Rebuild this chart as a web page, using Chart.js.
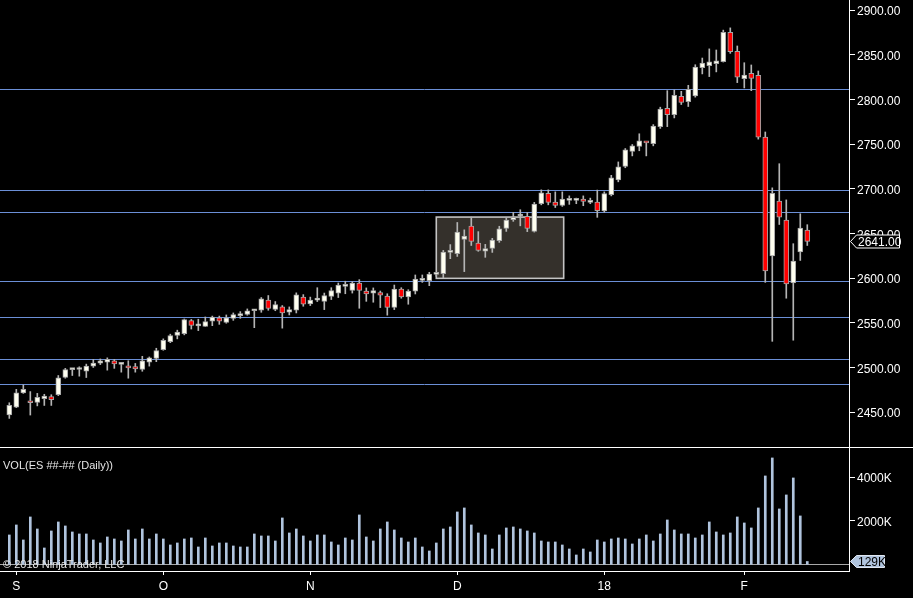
<!DOCTYPE html>
<html>
<head>
<meta charset="utf-8">
<script src="https://cdn.jsdelivr.net/npm/chart.js@4.4.1/dist/chart.umd.min.js"></script>
<style>
html,body{margin:0;padding:0;background:#000;width:913px;height:598px;overflow:hidden;}
#wrap{position:relative;width:913px;height:598px;background:#000;}
#pc{position:absolute;left:0;top:0;}
#vc{position:absolute;left:0;top:448px;}
#sep{position:absolute;left:0;top:447px;width:913px;height:1px;background:#ffffff;}
.txt{position:absolute;font-family:"Liberation Sans",Arial,sans-serif;font-size:11px;line-height:13px;color:#e6e6e6;white-space:nowrap;}
</style>
</head>
<body>
<div id="wrap">
  <canvas id="pc" width="913" height="447"></canvas>
  <div id="sep"></div>
  <canvas id="vc" width="913" height="150"></canvas>
  <div class="txt" style="left:3px;top:459px;">VOL(ES ##-## (Daily))</div>
  <div class="txt" style="left:3px;top:558px;">© 2018 NinjaTrader, LLC</div>
</div>
<script>
// ---- data (daily bars, ES futures) ----
const opens = [2447,2455.5,2471.5,2462.5,2461,2465,2467.5,2469.5,2488.75,2497.5,
2497.75,2495.75,2501.5,2504.75,2506,2507.5,2503.5,2501.75,2501,2497.75,
2506,2510,2520,2529,2535.75,2537.75,2552.5,2546.5,2546,2551.75,
2555.5,2550.5,2555,2558,2559.25,2563.5,2564,2575.5,2565,2567.75,
2561.75,2564,2578.75,2571,2575.25,2574,2579.5,2583.25,2590.75,2586.25,
2594.5,2585.5,2583.25,2583.75,2580,2567.25,2587.75,2579,2585.5,2597.5,
2597,2604.25,2605,2628.75,2627.25,2643.25,2658.25,2639.25,2630,2633.25,
2641.75,2655.5,2665.25,2669.5,2669,2652.25,2683.25,2695,2685,2681.25,
2687,2687,2688.5,2684.75,2685,2675.25,2693.5,2710,2725,2741.75,
2747.25,2751.5,2750.5,2769.5,2790,2783,2803.5,2797.5,2804,2835.5,
2837.75,2840,2842.25,2875,2853.75,2823.25,2829.25,2827,2757.75,2624.75,
2686.25,2665,2594.5,2629.25,2653.75];
const highs = [2460.5,2475.5,2480.5,2473,2471,2470,2469.5,2491,2499,2498,
2500.75,2503.75,2509,2509.5,2510.75,2509,2504.25,2507.5,2504.5,2512.5,
2511.75,2521.5,2532,2537.25,2541.75,2554.25,2553.75,2554,2556.5,2557.5,
2557.5,2558.75,2561,2562.5,2565.5,2564.75,2578.25,2580.5,2573.75,2569.25,
2567.75,2583.5,2581.5,2578.75,2589.25,2583.25,2589.25,2594.5,2596.5,2596,
2598.25,2589,2589,2585.5,2582.5,2592.25,2589.25,2587,2603.5,2603.5,
2606.5,2605.75,2631,2637.5,2662.25,2654,2668.25,2652,2637.75,2644.5,
2658,2667.5,2673.5,2676.5,2673.5,2684.75,2698.75,2698.75,2696.5,2696.5,
2692,2689.5,2692,2689.5,2698.5,2696.5,2715,2730,2745,2749.5,
2761.5,2752.5,2771.75,2791.25,2809.75,2810.5,2809,2815.75,2838.75,2846.25,
2856.5,2855.25,2877.5,2880,2859.75,2841,2838.5,2831.75,2763.5,2701,
2728,2687.5,2638.5,2672,2659.75];
const lows = [2443,2455,2471,2446.75,2457,2457.5,2457.5,2468.5,2488,2491,
2490.25,2488.75,2500,2503.25,2497,2499,2494.75,2488,2494.75,2495.75,
2501.5,2506.5,2519.25,2527.75,2532,2536.5,2543,2541.25,2546,2546.75,
2548.25,2549.5,2552.75,2555,2558.5,2544.5,2561.75,2564,2563.5,2544,
2558.75,2561,2568.5,2569.25,2573.75,2564.75,2576,2578.25,2582.5,2583.25,
2566.25,2574,2573,2567,2558.5,2564.75,2577.5,2570.75,2582.25,2595.25,
2591.5,2602,2600.5,2621.75,2624.25,2607.25,2636.5,2630,2623.25,2628.75,
2640,2652.25,2663.5,2658.5,2652,2651.5,2682,2682,2679,2680.25,
2682.5,2683.25,2681,2683.25,2668,2673.75,2692,2707.75,2723.5,2736.75,
2742.5,2736.75,2748,2767.5,2769.5,2779.25,2794.25,2792,2802.5,2828.5,
2825.5,2830.75,2841.75,2851.5,2818.75,2812.75,2809.75,2755.5,2595.25,2529.25,
2660,2577.5,2530.5,2619.75,2636.5];
const closes = [2457.5,2471.5,2475.5,2460.5,2466.5,2468,2464,2488.5,2497.75,2497.75,
2497.75,2501.5,2505,2507.5,2509,2504,2503.75,2499.5,2498.5,2507.5,
2510.75,2519,2530.5,2535.75,2539.5,2553.5,2547,2546.5,2551.25,2556.5,
2551.75,2555.5,2559.25,2560.25,2563.5,2563.75,2576.75,2566,2570.25,2561,
2564.75,2581.25,2570.75,2575.5,2577.75,2580.5,2586,2592.25,2590.75,2594.5,
2586.25,2582.25,2586,2581,2567.25,2587.75,2579,2585.5,2599,2599.75,
2604.5,2604.25,2629.25,2629.5,2651.5,2647,2641,2631,2633,2642.5,
2655,2665,2668,2669.5,2655.5,2682.75,2695.5,2684.75,2681.25,2688.5,
2687,2687,2685.75,2686.75,2675.5,2694.5,2712.25,2724.5,2743.5,2748,
2753.5,2751.25,2770.25,2789.25,2783,2804.5,2796.5,2811.25,2836,2840.5,
2842,2843,2875,2853.5,2824.75,2827.25,2823.5,2757.75,2608,2695,
2668.25,2593.5,2619,2656,2641];
const volumesK = [1349,1809,1119,2177,1625,751,1533,1947,1763,1487,
1395,1395,1119,981,1257,1165,1073,1579,1165,1625,
1165,1395,1165,889,981,1165,1211,797,1211,843,
981,981,843,797,797,1395,1303,1303,1073,2131,
1441,1625,1303,1073,1349,1349,1027,889,1211,1119,
2269,1257,1073,1625,1947,1579,1211,1027,1211,797,
613,981,1625,1717,2407,2591,1809,1441,1349,705,
1349,1671,1717,1625,1533,1441,1073,1027,1027,889,
705,429,705,567,1119,1027,1165,1211,1165,935,
1165,1349,1073,1395,2039,1579,1395,1395,1211,1349,
1947,1487,1349,1441,2177,1901,1671,2591,4062,4890,
2545,3189,3970,2223,129];
const tickLabels = ["S","O","N","D","18","F"];
const tickBars = [1,22,43,64,85,105];
const priceTicks = [2450,2500,2550,2600,2650,2700,2750,2800,2850,2900];
const volumeTicks = [2000,4000];
const levels = [2811.5,2698.5,2674,2597,2557,2510,2481];
const zoneBars = [61,79.2];
const zonePrices = [2599.7,2668.3];

// ---- view settings ----
const xMin = -1.33, xMax = 119.96;
const FONT = {family:'"Liberation Sans", Arial, sans-serif', size:12};
const bars = opens.map((_, i) => i);

const bodyData = bars.map(i => ({x:i, y:[opens[i], closes[i]]}));
const wickData = bars.map(i => ({x:i, y:[lows[i], highs[i]]}));
const bodyColors = bars.map(i => closes[i] < opens[i] ? '#ff0000' : '#fffff0');
const volData = bars.map(i => ({x:i, y:volumesK[i]}));

function rightAxis(extra){
  return Object.assign({
    position:'right',
    afterFit(s){ s.width = 64; s.paddingTop = 0; s.paddingBottom = 0; },
    grid:{drawOnChartArea:false, drawTicks:true, tickLength:6, color:'#ffffff'},
    border:{display:true, color:'#ffffff', width:1}
  }, extra);
}

const pricePlugin = {
  id:'pricePlugin',
  beforeDatasetsDraw(chart){
    const {ctx, chartArea:a, scales:{x, y}} = chart;
    ctx.save();
    const zx0 = x.getPixelForValue(zoneBars[0]), zx1 = x.getPixelForValue(zoneBars[1]);
    const zy0 = y.getPixelForValue(zonePrices[1]), zy1 = y.getPixelForValue(zonePrices[0]);
    ctx.fillStyle = '#34302b';
    ctx.fillRect(zx0, zy0, zx1 - zx0, zy1 - zy0);
    ctx.strokeStyle = '#c4c4c4';
    ctx.lineWidth = 1.6;
    ctx.strokeRect(zx0, zy0, zx1 - zx0, zy1 - zy0);
    ctx.strokeStyle = '#6b8fd6';
    ctx.lineWidth = 1;
    levels.forEach(v => {
      const py = Math.round(y.getPixelForValue(v)) + 0.5;
      ctx.beginPath(); ctx.moveTo(a.left, py); ctx.lineTo(a.right, py); ctx.stroke();
    });
    ctx.restore();
  },
  afterDraw(chart){
    const {ctx, chartArea:a, scales:{y}} = chart;
    const last = closes[closes.length - 1];
    const py = Math.round(y.getPixelForValue(last)) + 0.5;
    const x0 = a.right + 1.5, xb = x0 + 6, x1 = 899.5;
    ctx.save();
    ctx.beginPath();
    ctx.moveTo(x0, py); ctx.lineTo(xb, py - 6.5); ctx.lineTo(x1, py - 6.5);
    ctx.lineTo(x1, py + 6.5); ctx.lineTo(xb, py + 6.5); ctx.closePath();
    ctx.fillStyle = '#000'; ctx.fill();
    ctx.strokeStyle = '#ffffff'; ctx.lineWidth = 1; ctx.stroke();
    ctx.fillStyle = '#ffffff';
    ctx.font = '12px "Liberation Sans", Arial, sans-serif';
    ctx.textBaseline = 'middle'; ctx.textAlign = 'left';
    ctx.fillText(last.toFixed(2), xb + 1.5, py + 1);
    ctx.restore();
  }
};

new Chart(document.getElementById('pc'), {
  type:'bar',
  data:{datasets:[
    {data:bodyData, backgroundColor:bodyColors, borderColor:'#a4a4a4', borderWidth:1,
     borderSkipped:false, barThickness:5, minBarLength:2, grouped:false, order:1},
    {data:wickData, backgroundColor:'#b4b4b4', borderWidth:0, barThickness:1, grouped:false, order:2}
  ]},
  options:{
    responsive:false, animation:false, events:[],
    layout:{padding:0},
    plugins:{legend:{display:false}, tooltip:{enabled:false}},
    scales:{
      x:{type:'linear', min:xMin, max:xMax, display:false, offset:false, grid:{offset:false}},
      y:rightAxis({
        min:2411, max:2911.2,
        afterBuildTicks(s){ s.ticks = priceTicks.map(v => ({value:v})); },
        ticks:{color:'#ffffff', font:FONT, padding:2, labelOffset:2, callback:v => Number(v).toFixed(2)}
      })
    }
  },
  plugins:[pricePlugin]
});

const volPlugin = {
  id:'volPlugin',
  beforeDatasetsDraw(chart){
    const {ctx, chartArea:a, scales:{y}} = chart;
    const py = Math.round(y.getPixelForValue(0)) + 0.5;
    ctx.save();
    ctx.strokeStyle = '#a8a8a8'; ctx.lineWidth = 1;
    ctx.beginPath(); ctx.moveTo(a.left, py); ctx.lineTo(a.right, py); ctx.stroke();
    ctx.restore();
  },
  afterDraw(chart){
    const {ctx, chartArea:a, scales:{y}} = chart;
    const last = volumesK[volumesK.length - 1];
    const py = Math.round(y.getPixelForValue(last)) + 0.5;
    const x0 = a.right + 1.5, xb = x0 + 6, x1 = 884.5;
    ctx.save();
    ctx.beginPath();
    ctx.moveTo(x0, py); ctx.lineTo(xb, py - 6); ctx.lineTo(x1, py - 6);
    ctx.lineTo(x1, py + 6); ctx.lineTo(xb, py + 6); ctx.closePath();
    ctx.fillStyle = '#b0c4de'; ctx.fill();
    ctx.strokeStyle = '#dfe6f0'; ctx.lineWidth = 1; ctx.stroke();
    ctx.fillStyle = '#000000';
    ctx.font = '12px "Liberation Sans", Arial, sans-serif';
    ctx.textBaseline = 'middle'; ctx.textAlign = 'left';
    ctx.fillText(last + 'K', xb + 1.5, py + 1);
    ctx.restore();
  }
};

new Chart(document.getElementById('vc'), {
  type:'bar',
  data:{datasets:[
    {data:volData, backgroundColor:'#b0c4de', borderWidth:0, barThickness:2, grouped:false}
  ]},
  options:{
    responsive:false, animation:false, events:[],
    layout:{padding:0},
    plugins:{legend:{display:false}, tooltip:{enabled:false}},
    scales:{
      x:{
        type:'linear', min:xMin, max:xMax, offset:false, position:'bottom',
        afterBuildTicks(s){ s.ticks = tickBars.map(v => ({value:v})); },
        afterFit(s){ s.height = 27; s.paddingLeft = 0; s.paddingRight = 0; },
        ticks:{autoSkip:false, maxRotation:0, minRotation:0, color:'#ffffff', font:FONT, padding:4,
               callback:(v, i) => tickLabels[i]},
        grid:{offset:false, drawOnChartArea:false, drawTicks:true, tickLength:4, color:'#ffffff'},
        border:{display:true, color:'#ffffff', width:1}
      },
      y:rightAxis({
        min:-308, max:5347,
        afterBuildTicks(s){ s.ticks = volumeTicks.map(v => ({value:v})); },
        ticks:{color:'#ffffff', font:FONT, padding:2, labelOffset:1.5, callback:v => v + 'K'}
      })
    }
  },
  plugins:[volPlugin]
});
</script>
</body>
</html>
